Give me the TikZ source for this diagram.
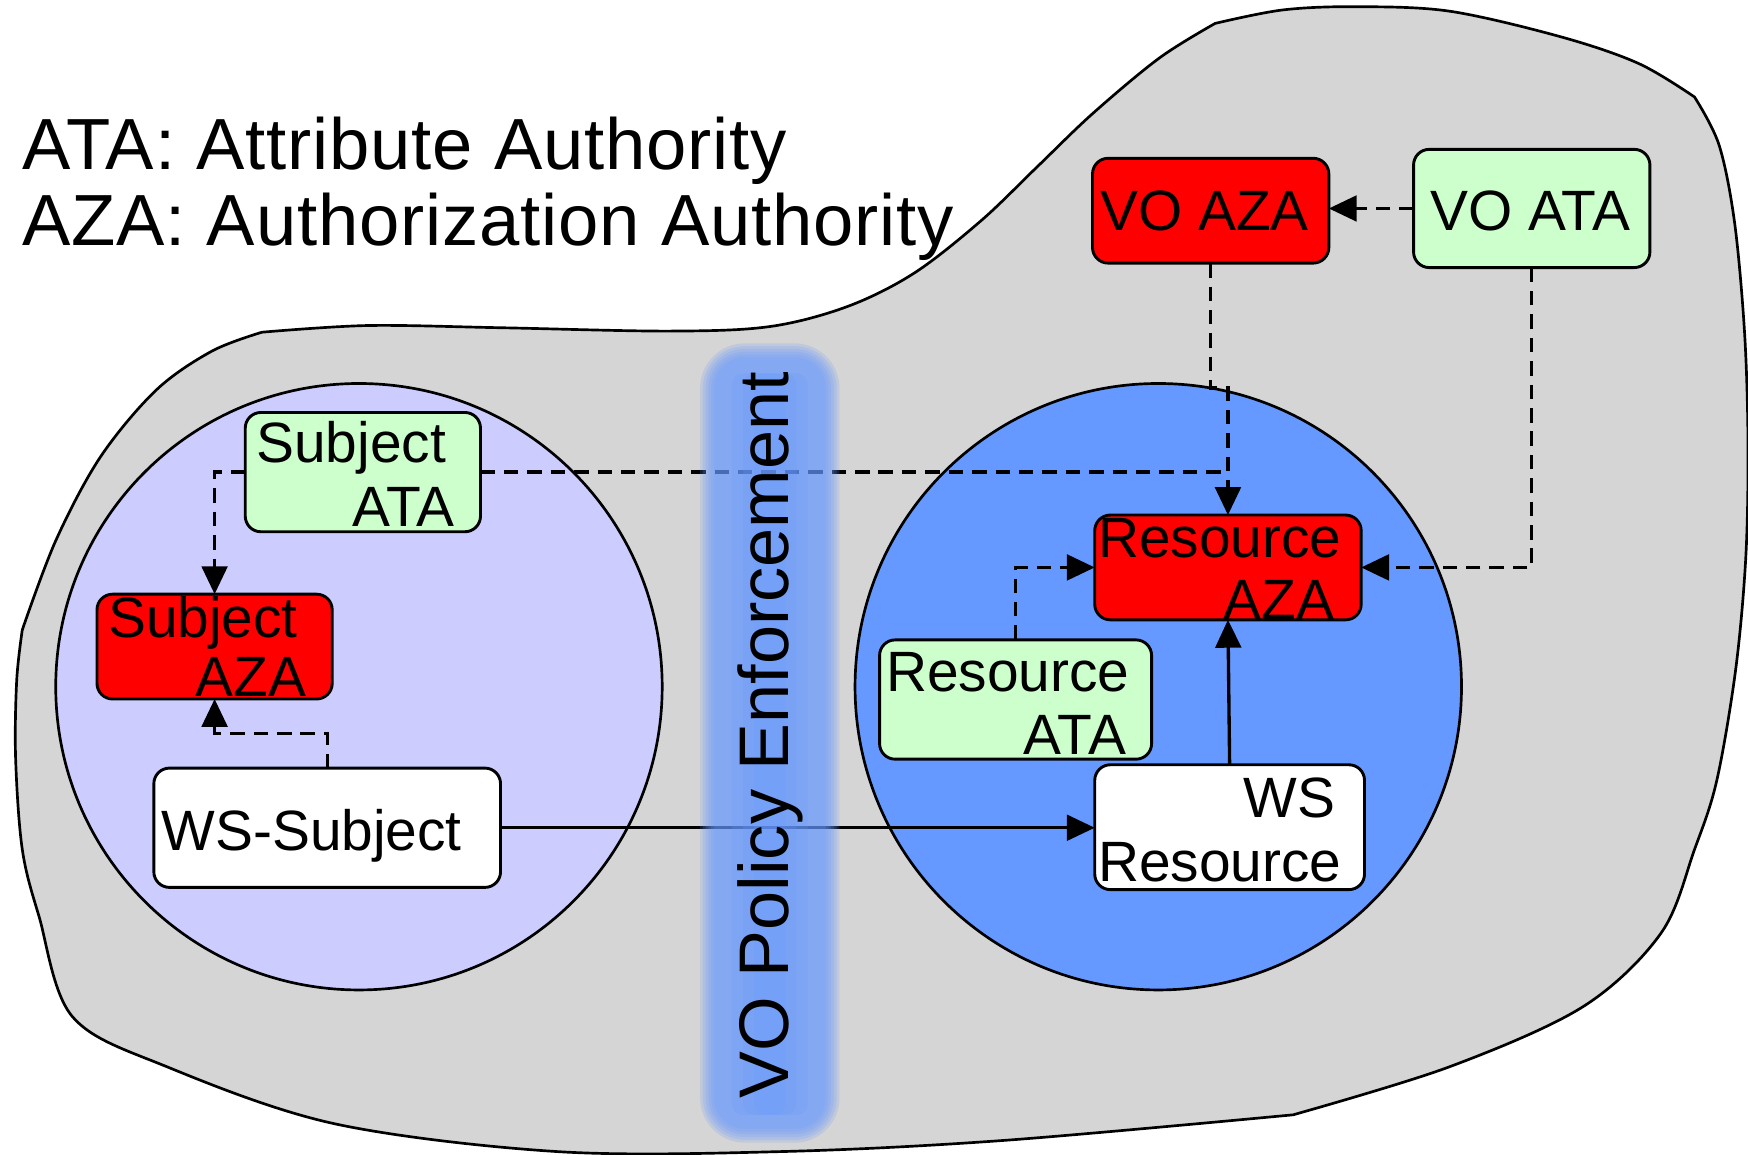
\documentclass[tikz,border=0pt]{standalone}
\usepackage{fontspec}
\setmainfont{Liberation Sans}
\newfontfamily\legendfont{Liberation Sans}[LetterSpace=1.2]
\usetikzlibrary{arrows.meta}
\definecolor{blobgray}{HTML}{D5D5D5}
\definecolor{subjfill}{HTML}{CCCCFF}
\definecolor{resfill}{HTML}{6699FF}
\definecolor{atafill}{HTML}{CCFFCC}
\definecolor{azafill}{HTML}{FF0000}
\definecolor{barblue}{HTML}{6699FF}
\begin{document}
\begin{tikzpicture}[x=1pt,y=-1pt,
  every node/.style={inner sep=0pt, outer sep=0pt},
  lbl/.style={font=\fontsize{51}{57}\selectfont, text=black},
  legend/.style={font=\legendfont\fontsize{65}{78}\selectfont, text=black, anchor=base west},
  box/.style={draw=black, line width=2.6pt, rounded corners=14pt, rectangle},
  atabox/.style={box, fill=atafill},
  azabox/.style={box, fill=azafill},
  wsbox/.style={box, fill=white},
  realm/.style={circle, draw=black, line width=2.4pt, minimum size=544pt},
  link/.style={line width=3pt, -{Triangle[length=25pt,width=23pt]}},
  dlink/.style={link, dash pattern=on 13pt off 8pt},
  dline/.style={line width=3pt, dash pattern=on 13pt off 8pt},
]
\useasboundingbox (0,0) rectangle (1568,1036);

% outer grey region
\path[fill=blobgray, draw=black, line width=2.4pt]
  plot[smooth,tension=.55] coordinates {(1090,21) (1150,9) (1215,6) (1300,10) (1400,33) (1470,57) (1520,87)}
  -- plot[smooth,tension=.55] coordinates {(1520,87) (1542,130) (1556,200) (1565,300) (1568,400) (1566,500) (1557,600) (1540,700) (1520,762) (1490,837) (1420,903) (1300,957) (1160,1000)}
  -- plot[smooth,tension=.55] coordinates {(1160,1000) (900,1023) (700,1033) (500,1033) (300,1008) (150,957) (65,912) (35,822) (20,762) (14,680) (15,610) (20,565)}
  -- plot[smooth,tension=.55] coordinates {(20,565) (50,485) (90,410) (140,350) (190,315) (235,298)}
  -- plot[smooth,tension=.55] coordinates {(235,298) (330,292) (450,294) (600,297) (690,293) (760,275) (820,245) (880,198) (930,150) (980,102) (1040,52) (1090,21)}
  -- cycle;

% legend
\node[legend] (leg1) at (20,152) {ATA: Attribute Authority};
\node[legend] (leg2) at (20,220) {AZA: Authorization Authority};

% subject and resource domains
\node[realm, fill=subjfill] (subjdom) at (322,616) {};
\node[realm, fill=resfill] (resdom) at (1039,616) {};

% authorities and services
\node[atabox, minimum width=211pt, minimum height=107pt] (sata) at (325.5,423.5) {};
\node[azabox, minimum width=211pt, minimum height=94pt] (saza) at (192.5,580) {};
\node[wsbox, minimum width=311pt, minimum height=107pt] (wss) at (293.5,742.5) {};
\node[azabox, minimum width=212pt, minimum height=94pt] (vaza) at (1086,189) {};
\node[atabox, minimum width=212pt, minimum height=106pt] (vata) at (1374,187) {};
\node[azabox, minimum width=239pt, minimum height=94pt] (raza) at (1101.5,509) {};
\node[atabox, minimum width=244pt, minimum height=107pt] (rata) at (911,627.5) {};
\node[wsbox, minimum width=242pt, minimum height=112pt] (wsr) at (1103,742) {};

% connectors
\coordinate (jog) at (1101.5,348);
\coordinate (sbend) at (293.5,658);
\draw[dlink] (sata.west) -| (saza.north);
\draw[dline] (sata.east) -- (sata.east -| raza.north);
\draw[dlink] (vaza.south) |- (jog) -- (raza.north);
\draw[dlink] (vata.west) -- (vata.west -| vaza.east);
\draw[dlink] (vata.south) |- (raza.east);
\draw[dlink] (rata.north) |- (raza.west);
\draw[link] (wsr.north) -- (raza.south);
\draw[link] (wss.east) -- (wss.east -| wsr.west);
\draw[dlink] (wss.north) -- (sbend) -| (saza.south);

% policy enforcement bar, soft edged
\foreach \i [evaluate=\i as \r using 40-2.5*\i] in {0,...,5}{
  \fill[barblue, opacity=0.19, rounded corners=\r pt]
    (628+2.5*\i,308+2.5*\i) rectangle (753-2.5*\i,1025-2.5*\i);
}
\foreach \w in {34,24,14}{
  \fill[barblue, opacity=0.2, rounded corners=10pt]
    (690.5-\w,335) rectangle (690.5+\w,1000);
}
\node[font=\fontsize{63}{70}\selectfont, rotate=90, anchor=base west] (policy) at (707,985) {VO Policy Enforcement};

% box labels
\node[lbl, anchor=base west] (tsata1) at (230,415) {Subject};
\node[lbl, anchor=base east] (tsata2) at (408,472) {ATA};
\node[lbl, anchor=base west] (tsaza1) at (97,572) {Subject};
\node[lbl, anchor=base east] (tsaza2) at (275,625) {AZA};
\node[lbl, anchor=base west] (twss) at (145,763) {WS-Subject};
\node[lbl, anchor=base west] (tvaza) at (987,207) {VO AZA};
\node[lbl, anchor=base west] (tvata) at (1283,207) {VO ATA};
\node[lbl, anchor=base west] (traza1) at (985,500) {Resource};
\node[lbl, anchor=base east] (traza2) at (1197,556) {AZA};
\node[lbl, anchor=base west] (trata1) at (795,620) {Resource};
\node[lbl, anchor=base east] (trata2) at (1010,677) {ATA};
\node[lbl, anchor=base east] (twsr1) at (1198,733) {WS};
\node[lbl, anchor=base west] (twsr2) at (985,791) {Resource};
\end{tikzpicture}
\end{document}
